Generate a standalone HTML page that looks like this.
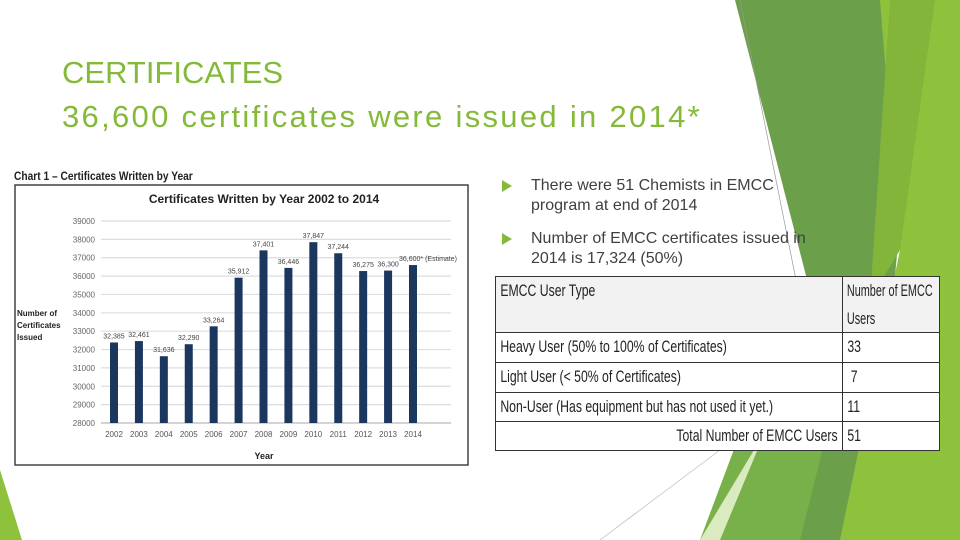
<!DOCTYPE html>
<html><head><meta charset="utf-8"><style>
body{margin:0;width:960px;height:540px;overflow:hidden;background:#fff;position:relative;font-family:"Liberation Sans",sans-serif}
.abs{position:absolute}
.title{left:62px;color:#84b93a;font-size:31px;line-height:42px;white-space:nowrap}
.bul{color:#404040;font-size:16px;line-height:20px}
.tri{position:absolute;left:502px;width:0;height:0;border-top:6px solid transparent;border-bottom:6px solid transparent;border-left:10px solid #84b93a}
.cell{position:absolute;border:1px solid #333;box-sizing:border-box;overflow:hidden;color:#222;font-size:17px;line-height:28px;white-space:nowrap}
.cell span{display:inline-block;transform:scaleX(0.72);transform-origin:left top;padding-left:6px}
.cell span.r{transform-origin:right top;padding-left:0;padding-right:6px}
.cell span.n{transform:scaleX(0.64)}
</style></head><body>
<svg class="abs" style="left:0;top:0" width="960" height="540">
<polygon points="735,0 890,0 905,170 870,540 700,540 820,330" fill="#6c9f4a"/>
<polygon points="880,0 960,0 960,540 840,540 900,250" fill="#8fc23c"/>
<polygon points="890,0 935,0 900,250 870,300" fill="#82b53a"/>
<polygon points="790,300 860,300 800,540 700,540" fill="#78b04a"/>
<polygon points="700,540 760,440 800,300 820,300 720,540" fill="#d9ebbf"/>
<polygon points="0,470 22,540 0,540" fill="#8fc23c"/>
<line x1="740" y1="0" x2="800" y2="300" stroke="#999" stroke-width="0.7"/>
<line x1="600" y1="540" x2="720" y2="450" stroke="#bbb" stroke-width="0.7"/>
</svg>
<div class="abs title" style="top:52px">CERTIFICATES</div>
<div class="abs title" style="top:96px;letter-spacing:2.3px">36,600 certificates were issued in 2014*</div>

<div class="tri" style="top:180px"></div>
<div class="abs bul" style="left:531px;top:176px">There were 51 Chemists in EMCC<br>program at end of 2014</div>
<div class="tri" style="top:233px"></div>
<div class="abs bul" style="left:531px;top:229px">Number of EMCC certificates issued in<br>2014 is 17,324 (50%)</div>

<div class="abs" style="left:495px;top:276px;width:445px;height:175px;background:#fff">
<div class="cell" style="left:0;top:0;width:348px;height:57px;background:#f2f2f2"><span>EMCC User Type</span></div>
<div class="cell" style="left:347px;top:0;width:98px;height:57px;background:#f2f2f2"><span class="n">Number of EMCC<br>Users</span></div>
<div class="cell" style="left:0;top:56px;width:348px;height:31px"><span>Heavy User (50% to 100% of Certificates)</span></div>
<div class="cell" style="left:347px;top:56px;width:98px;height:31px"><span>33</span></div>
<div class="cell" style="left:0;top:86px;width:348px;height:31px"><span>Light User (&lt; 50% of Certificates)</span></div>
<div class="cell" style="left:347px;top:86px;width:98px;height:31px"><span>&nbsp;7</span></div>
<div class="cell" style="left:0;top:116px;width:348px;height:30px"><span>Non-User (Has equipment but has not used it yet.)</span></div>
<div class="cell" style="left:347px;top:116px;width:98px;height:30px"><span>11</span></div>
<div class="cell" style="left:0;top:145px;width:348px;height:30px;text-align:right"><span class="r">Total Number of EMCC Users</span></div>
<div class="cell" style="left:347px;top:145px;width:98px;height:30px"><span>51</span></div>
</div>

<div class="abs" style="left:14px;top:169px;font-size:12px;font-weight:bold;color:#222;transform:scaleX(0.85);transform-origin:left top;white-space:nowrap">Chart 1 – Certificates Written by Year</div>
<svg class="abs" style="left:10px;top:184px" width="460" height="282" id="chart"></svg>
<script>
const years=["2002","2003","2004","2005","2006","2007","2008","2009","2010","2011","2012","2013","2014"];
const values=[32385,32461,31636,32290,33264,35912,37401,36446,37847,37244,36275,36300,36600];
const valueLabels=["32,385","32,461","31,636","32,290","33,264","35,912","37,401","36,446","37,847","37,244","36,275","36,300","36,600* (Estimate)"];
const yTicks=[28000,29000,30000,31000,32000,33000,34000,35000,36000,37000,38000,39000];
const NS="http://www.w3.org/2000/svg";
const svg=document.getElementById('chart');
const OX=10,OY=184;
function y(v){return (423-(v-28000)*(423-221)/11000)-OY;}
function x(i){return (114+i*(413-114)/12)-OX;}
function mk(t,a,txt){const e=document.createElementNS(NS,t);for(const k in a)e.setAttribute(k,a[k]);if(txt!==undefined)e.textContent=txt;svg.appendChild(e);return e;}
let e=mk('rect',{x:5,y:1,width:453,height:280,fill:'#fff',stroke:'#444','stroke-width':1.5});

e=mk('text',{x:254,y:19,'text-anchor':'middle','font-size':12,'font-weight':'bold',fill:'#222'},'Certificates Written by Year 2002 to 2014');

yTicks.forEach(t=>{
 let g=mk('line',{x1:91,x2:441,y1:y(t),y2:y(t),stroke:t===28000?'#bbb':'#ddd','stroke-width':1.2});
 
 let l=mk('text',{x:85,y:y(t)+3,'text-anchor':'end','font-size':8,fill:'#666'},t);
 
});
years.forEach((yr,i)=>{
 let b=mk('rect',{x:x(i)-4,y:y(values[i]),width:8,height:y(28000)-y(values[i]),fill:'#1b375e'});
 
 let l=mk('text',{x:x(i),y:y(28000)+14,'text-anchor':'middle','font-size':8,fill:'#555'},yr);
 
 let v=mk('text',{x:i===12?x(i)-14:x(i),y:y(values[i])-4,'text-anchor':i===12?'start':'middle','font-size':7,fill:'#444'},valueLabels[i]);
 
});
e=mk('text',{x:254,y:275,'text-anchor':'middle','font-size':9,'font-weight':'bold',fill:'#222'},'Year');

['Number of','Certificates','Issued'].forEach((s,k)=>{
 let t=mk('text',{x:7,y:132+k*12,'font-size':8,'font-weight':'bold',fill:'#222'},s);
 
});
</script>
</body></html>
